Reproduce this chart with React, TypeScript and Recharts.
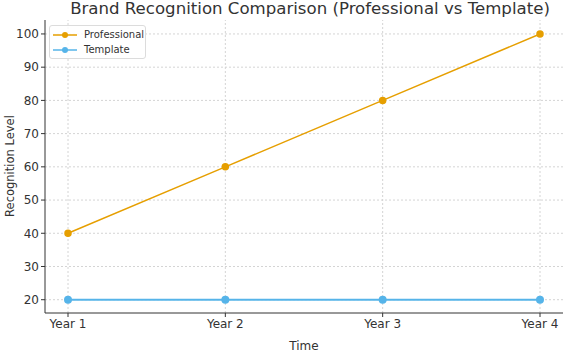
import React from "react";
import { LineChart, Line, XAxis, YAxis, ReferenceLine, Label } from "recharts";

const years = ["Year 1", "Year 2", "Year 3", "Year 4"];
const professional = [40, 60, 80, 100];
const template = [20, 20, 20, 20];
const yTicks = [20, 30, 40, 50, 60, 70, 80, 90, 100];

const data = years.map((y, i) => ({ year: y, Professional: professional[i], Template: template[i] }));

const FONT = "DejaVu Sans, sans-serif";
const ORANGE = "#E69F00";
const BLUE = "#56B4E9";
const GRID = "#d4d4d4";

const LegendBox = () => (
  <div
    style={{
      position: "absolute",
      left: 49,
      top: 25,
      width: 97,
      height: 34,
      boxSizing: "border-box",
      border: "1px solid #dcdcdc",
      borderRadius: 3,
      background: "rgba(255,255,255,0.85)",
      padding: "1px 0 0 3px",
      fontFamily: FONT,
      fontSize: 10,
      color: "#333",
      lineHeight: "15px",
      zIndex: 2,
    }}
  >
    {[{ n: "Professional", c: ORANGE }, { n: "Template", c: BLUE }].map((e) => (
      <div key={e.n} style={{ display: "flex", alignItems: "center", height: 15 }}>
        <svg width={24} height={10} style={{ marginRight: 7 }}>
          <line x1={0} x2={24} y1={5} y2={5} stroke={e.c} strokeWidth={1.5} />
          <circle cx={12} cy={5} r={3} fill={e.c} />
        </svg>
        <span>{e.n}</span>
      </div>
    ))}
  </div>
);

export default function App() {
  return (
    <div style={{ position: "absolute", left: 0, top: 0, width: 570, height: 352, background: "#fff" }}>
      <div
        style={{
          position: "absolute",
          left: 51,
          width: 518,
          top: -1,
          textAlign: "center",
          fontFamily: FONT,
          fontSize: 16.6,
          color: "#333",
          lineHeight: "20px",
          whiteSpace: "nowrap",
        }}
      >
        Brand Recognition Comparison (Professional vs Template)
      </div>
      <div
        style={{
          position: "absolute",
          left: 10 - 70,
          top: 166 - 8,
          width: 140,
          height: 16,
          lineHeight: "16px",
          textAlign: "center",
          transform: "rotate(-90deg)",
          fontFamily: FONT,
          fontSize: 11.5,
          color: "#333",
        }}
      >
        Recognition Level
      </div>
      <LegendBox />
      <LineChart width={570} height={352} data={data} margin={{ top: 20, right: 7, bottom: 0, left: 0 }}>
        <XAxis
          dataKey="year"
          height={39}
          padding={{ left: 23, right: 23 }}
          tick={{ fontFamily: FONT, fontSize: 12, fill: "#333" }}
          stroke="#333"
          tickSize={4}
        >
          <Label value="Time" position="insideBottom" offset={2} style={{ fontFamily: FONT, fontSize: 12, fill: "#333" }} />
        </XAxis>
        <YAxis
          domain={[16, 104.2]}
          ticks={yTicks}
          width={45}
          tick={{ fontFamily: FONT, fontSize: 12, fill: "#333" }}
          stroke="#333"
          tickSize={4}
          interval={0}
        />
        {yTicks.map((t) => (
          <ReferenceLine key={"h" + t} y={t} stroke={GRID} strokeDasharray="2 2" />
        ))}
        {years.map((y) => (
          <ReferenceLine key={"v" + y} x={y} stroke={GRID} strokeDasharray="2 2" />
        ))}
        <Line
          type="linear"
          dataKey="Professional"
          stroke={ORANGE}
          strokeWidth={1.5}
          dot={{ r: 3, fill: ORANGE, stroke: ORANGE }}
          isAnimationActive={false}
        />
        <Line
          type="linear"
          dataKey="Template"
          stroke={BLUE}
          strokeWidth={2}
          dot={{ r: 3, fill: BLUE, stroke: BLUE }}
          isAnimationActive={false}
        />
      </LineChart>
    </div>
  );
}
